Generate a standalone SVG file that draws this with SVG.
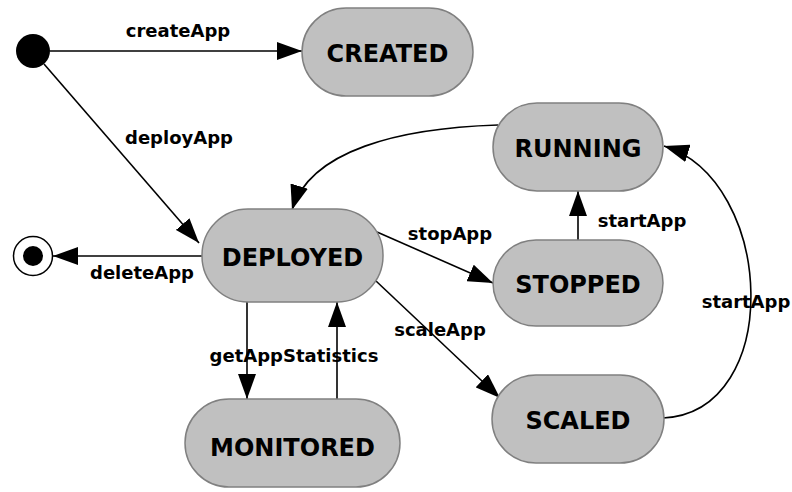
<svg xmlns="http://www.w3.org/2000/svg" width="792" height="492" viewBox="0 0 792 492">
<style>
.state rect{fill:#c0c0c0;stroke:#808080;stroke-width:1.5}
.state text{font-family:"DejaVu Sans","Verdana",sans-serif;font-weight:bold;font-size:24px;fill:#000;text-anchor:middle}
.edge{fill:none;stroke:#000;stroke-width:1.6;marker-end:url(#arrow)}
.lbl{font-family:"DejaVu Sans","Verdana",sans-serif;font-weight:bold;font-size:18px;fill:#000;text-anchor:middle}
</style>
<defs>
<marker id="arrow" markerUnits="userSpaceOnUse" viewBox="0 0 25 18" refX="25" refY="9" markerWidth="25" markerHeight="18" orient="auto">
<path d="M0,0 L25,9 L0,18 z" fill="#000"/>
</marker>
</defs>
<rect width="792" height="492" fill="#fff"/>
<g id="connectors">
<line class="edge" x1="50" y1="51" x2="302" y2="51"/>
<line class="edge" x1="44" y1="64" x2="199" y2="243"/>
<line class="edge" x1="202" y1="256" x2="53" y2="256"/>
<path class="edge" d="M498,125 C400,128 310,150 292,210"/>
<line class="edge" x1="377" y1="232" x2="493" y2="283"/>
<line class="edge" x1="578" y1="240" x2="578" y2="191"/>
<line class="edge" x1="376" y1="281" x2="500" y2="398"/>
<line class="edge" x1="247" y1="302" x2="247" y2="399"/>
<line class="edge" x1="337" y1="399" x2="337" y2="302"/>
<path class="edge" d="M663,418 C785,412 775,180 664,146"/>
<text class="lbl" x="178" y="37">createApp</text>
<text class="lbl" x="179" y="144">deployApp</text>
<text class="lbl" x="142" y="279">deleteApp</text>
<text class="lbl" x="450" y="240">stopApp</text>
<text class="lbl" x="642" y="227">startApp</text>
<text class="lbl" x="746" y="308">startApp</text>
<text class="lbl" x="440" y="336">scaleApp</text>
<text class="lbl" x="294" y="362">getAppStatistics</text>
</g>
<g id="initial"><circle cx="33" cy="51" r="17" fill="#000"/></g>
<g id="final"><circle cx="33" cy="256" r="19.5" fill="#fff" stroke="#000" stroke-width="1.5"/><circle cx="33" cy="256" r="10" fill="#000"/></g>
<g id="created" class="state"><rect x="302" y="8" width="171" height="88" rx="44" ry="44"/><text x="387.5" y="62">CREATED</text></g>
<g id="running" class="state"><rect x="493" y="103" width="170" height="88" rx="44" ry="44"/><text x="578" y="157">RUNNING</text></g>
<g id="deployed" class="state"><rect x="202" y="209" width="181" height="93" rx="46" ry="46"/><text x="292.5" y="266">DEPLOYED</text></g>
<g id="stopped" class="state"><rect x="493" y="240" width="170" height="86" rx="43" ry="43"/><text x="578" y="293">STOPPED</text></g>
<g id="scaled" class="state"><rect x="492" y="375" width="172" height="88" rx="44" ry="44"/><text x="578" y="429">SCALED</text></g>
<g id="monitored" class="state"><rect x="185" y="399" width="215" height="88" rx="44" ry="44"/><text x="292.5" y="456">MONITORED</text></g>
</svg>
